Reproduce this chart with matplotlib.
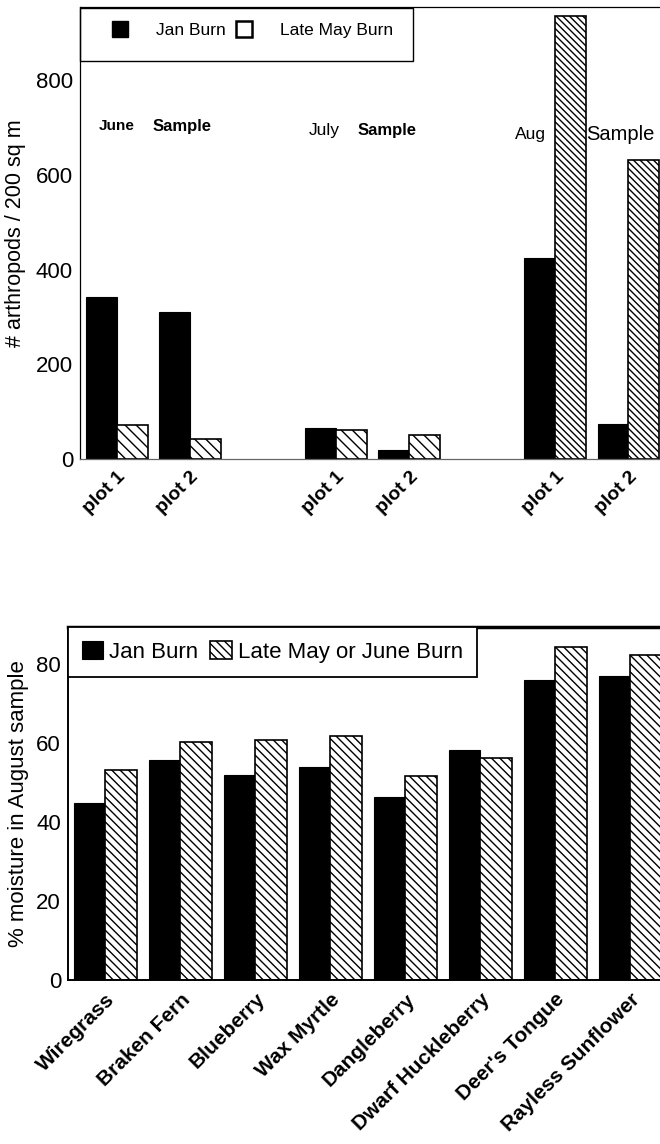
import matplotlib
matplotlib.use("Agg")
import matplotlib.pyplot as plt
from matplotlib.patches import Patch, Rectangle
import numpy as np

plt.rcParams['font.family'] = ['Liberation Sans', 'DejaVu Sans']
plt.rcParams['hatch.linewidth'] = 1.0

# top chart: arthropod counts
samples = ["June", "July", "Aug"]
plot_labels = ["plot 1", "plot 2"]
jan_burn = [343, 311, 65, 20, 424, 73]
late_may_burn = [72, 42, 61, 51, 935, 631]

# bottom chart: moisture
species = ["Wiregrass", "Braken Fern", "Blueberry", "Wax Myrtle", "Dangleberry",
           "Dwarf Huckleberry", "Deer's Tongue", "Rayless Sunflower"]
moist_jan = [45, 55.8, 51.9, 54.0, 46.4, 58.3, 76.0, 77.2]
moist_late = [53.2, 60.3, 60.9, 61.9, 51.6, 56.4, 84.5, 82.5]

W, H = 660, 1144
fig = plt.figure(figsize=(6.6, 11.44), dpi=100)

def px_axes(left, top, right, bottom):
    return fig.add_axes([left / W, 1 - bottom / H, (right - left) / W, (bottom - top) / H])

bw = 0.42

# ---------------- top chart ----------------
ax1 = px_axes(80, 7, 672, 459)
x1 = np.array([g * 3 + p for g in range(len(samples)) for p in range(len(plot_labels))])
ax1.bar(x1 - bw / 2, jan_burn, bw, color="black", edgecolor="black", linewidth=0.8)
hb = ax1.bar(x1 + bw / 2, late_may_burn, bw, color="white", edgecolor="black", linewidth=1.2)
for i, p in enumerate(hb):
    p.set_hatch("\\" * (5 if i >= 4 else 3))

ax1.set_xlim(-0.507, 7.6)
ax1.set_ylim(0, 955)
ax1.set_yticks([0, 200, 400, 600, 800])
ax1.set_xticks(x1)
ax1.set_xticklabels(plot_labels * len(samples), rotation=45, ha="right",
                    rotation_mode="anchor", fontsize=14, fontweight="bold")
ax1.tick_params(axis="both", length=0, pad=5)
ax1.tick_params(axis="y", labelsize=16)
ax1.tick_params(axis="x", pad=7)
ax1.set_ylabel("# arthropods / 200 sq m", fontsize=15.5, labelpad=7)
for s in ax1.spines.values():
    s.set_linewidth(0.9)
ax1.spines["bottom"].set_color("#666666")

# month annotations
ax1.text(-0.25, 703, "June", fontsize=11, fontweight="bold", va="center")
ax1.text(0.49, 703, "Sample", fontsize=12, fontweight="bold", va="center")
ax1.text(2.62, 695, "July", fontsize=12.5, va="center")
ax1.text(3.29, 695, "Sample", fontsize=12, fontweight="bold", va="center")
ax1.text(5.45, 686, "Aug", fontsize=12.5, va="center")
ax1.text(6.42, 686, "Sample", fontsize=14.5, va="center")

leg1 = ax1.legend([Patch(facecolor="black", edgecolor="black"),
                   Patch(facecolor="white", edgecolor="black", linewidth=1.8)],
                  ["Jan Burn", "Late May Burn"], ncol=2, loc="upper left",
                  bbox_to_anchor=(112 / W, 1 - 21 / H), bbox_transform=fig.transFigure,
                  borderaxespad=0, borderpad=0, fontsize=12.5,
                  handlelength=0.95, handleheight=1.0, handletextpad=1.6,
                  columnspacing=0.55, frameon=False)
fig.add_artist(Rectangle((80 / W, 1 - 61 / H), 333 / W, 53 / H, transform=fig.transFigure,
                         fill=False, edgecolor="black", linewidth=1.0))

# ---------------- bottom chart ----------------
ax2 = px_axes(68, 627, 672, 980)
x2 = np.arange(len(species))
ax2.bar(x2 - bw / 2, moist_jan, bw, color="black", edgecolor="black", linewidth=0.8,
        label="Jan Burn")
ax2.bar(x2 + bw / 2, moist_late, bw, color="white", edgecolor="black", linewidth=1.2,
        hatch="\\\\\\\\", label="Late May or June Burn")
ax2.set_xlim(-0.495, 7.56)
ax2.set_ylim(0, 89.5)
ax2.set_yticks([0, 20, 40, 60, 80])
ax2.set_xticks(x2)
ax2.set_xticklabels(species, rotation=45, ha="right", rotation_mode="anchor",
                    fontsize=15, fontweight="bold")
ax2.tick_params(axis="both", length=0, pad=5)
ax2.tick_params(axis="y", labelsize=16)
ax2.tick_params(axis="x", pad=7)
ax2.set_ylabel("% moisture in August sample", fontsize=16, labelpad=5)
ax2.spines["top"].set_linewidth(2.5)
ax2.spines["left"].set_linewidth(1.4)
ax2.spines["bottom"].set_linewidth(1.4)

leg2 = ax2.legend(loc="upper left", bbox_to_anchor=(0, 1), borderaxespad=0,
                  ncol=2, fontsize=16, handlelength=0.95, handleheight=0.9,
                  handletextpad=0.27, columnspacing=0.55, borderpad=0.63,
                  fancybox=False, edgecolor="black", framealpha=1)
leg2.get_frame().set_linewidth(1.3)

fig.savefig("out.png", dpi=100)
